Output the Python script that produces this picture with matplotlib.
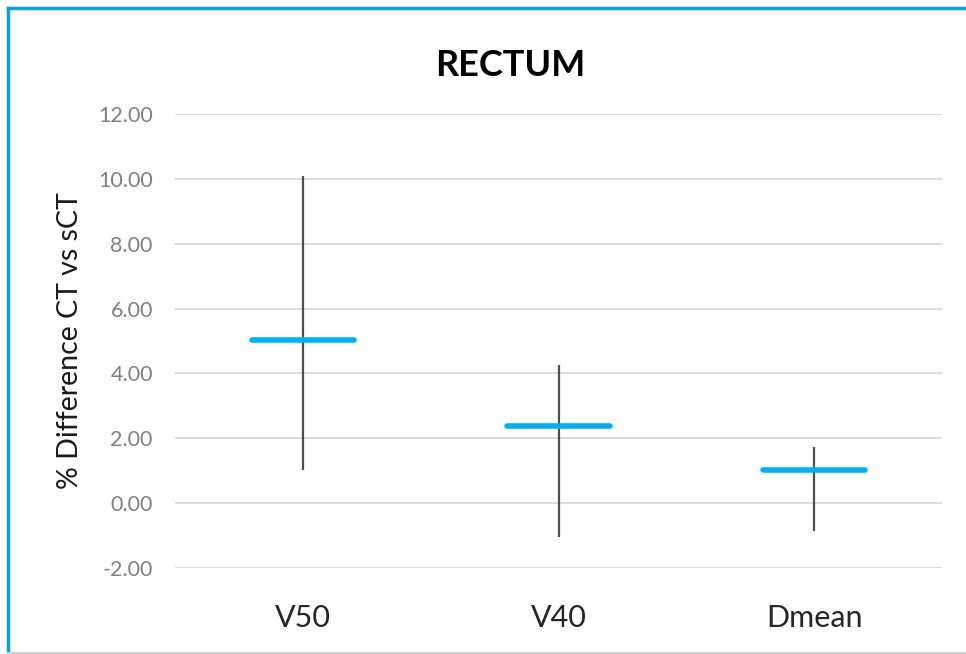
import matplotlib.pyplot as plt
from matplotlib.lines import Line2D

categories = ["V50", "V40", "Dmean"]
means = [5.02, 2.38, 1.02]
maxs = [10.08, 4.26, 1.74]
mins = [1.02, -1.04, -0.86]
yticks = [-2, 0, 2, 4, 6, 8, 10, 12]

plt.rcParams['font.family'] = ['Lato', 'DejaVu Sans']

fig = plt.figure(figsize=(9.66, 6.54), dpi=100)
ax = fig.add_axes([175 / 966, 1 - 568 / 654, 767 / 966, 454 / 654])

x = list(range(len(categories)))
ax.vlines(x, mins, maxs, color='#4d4d4d', lw=1.6, zorder=3)
ax.hlines(means, [i - 0.2 for i in x], [i + 0.2 for i in x],
          color='#00b0f0', lw=4, capstyle='round', zorder=4)

ax.set_xlim(-0.5, len(categories) - 0.5)
ax.set_ylim(-2, 12)
ax.set_yticks(yticks)
ax.set_yticklabels([f"{v:.2f}" for v in yticks], color='#808080', fontsize=15.5)
ax.set_xticks(x)
ax.set_xticklabels(categories, fontsize=22, color='#262626')
ax.tick_params(axis='both', length=0)
ax.tick_params(axis='y', pad=16)
ax.tick_params(axis='x', pad=26)
ax.grid(axis='y', color='#d9d9d9', lw=1.3)
ax.set_axisbelow(True)
for s in ax.spines.values():
    s.set_visible(False)

ax.set_ylabel("% Difference CT vs sCT", fontsize=20.5, color='#1a1a1a', labelpad=11)
fig.text(510 / 966, 1 - 65 / 654, "RECTUM", fontsize=26, fontweight='bold',
         ha='center', va='center', color='black')

# outer frame like the screenshot
fig.add_artist(Line2D([8 / 966, 1], [1 - 7.5 / 654] * 2, color='#0aa0dc', lw=2.5))
fig.add_artist(Line2D([8 / 966] * 2, [1 - 7.5 / 654, 0], color='#0aa0dc', lw=2.5))
fig.add_artist(Line2D([8 / 966, 1], [1.5 / 654] * 2, color='#d0d0d0', lw=1.5))

fig.savefig("out.png", dpi=100, facecolor='white')
